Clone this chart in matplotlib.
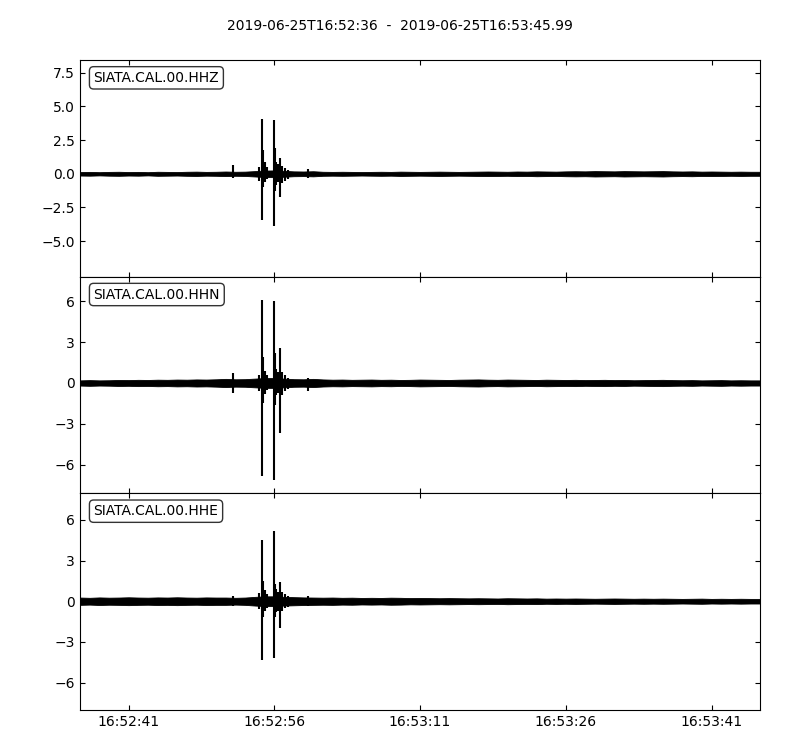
"""Three-component seismogram, SIATA.CAL.00 (HHZ / HHN / HHE), ObsPy-style layout."""

import matplotlib

matplotlib.use("Agg")
import matplotlib.dates as mdates
import matplotlib.pyplot as plt
import numpy as np

# start of the record; every time below is seconds after it
START = np.datetime64("2019-06-25T16:52:36")
DURATION = 69.99
TITLE = "2019-06-25T16:52:36  -  2019-06-25T16:53:45.99"
CHANNELS = ["SIATA.CAL.00.HHZ", "SIATA.CAL.00.HHN", "SIATA.CAL.00.HHE"]

# background noise: half-width of the min/max band, one value per second (0..70 s)
env_t = np.arange(0, 71, 1.0)
hhz_w = [0.13, 0.14, 0.12, 0.14, 0.15, 0.13, 0.14, 0.12, 0.15, 0.14,
         0.13, 0.15, 0.16, 0.14, 0.15, 0.17, 0.15, 0.16, 0.20, 0.24,
         0.25, 0.22, 0.18, 0.17, 0.19, 0.15, 0.14, 0.15, 0.14, 0.13,
         0.14, 0.15, 0.14, 0.16, 0.15, 0.14, 0.15, 0.16, 0.15, 0.14,
         0.15, 0.16, 0.17, 0.16, 0.15, 0.17, 0.16, 0.18, 0.17, 0.16,
         0.18, 0.19, 0.18, 0.20, 0.19, 0.18, 0.20, 0.19, 0.18, 0.19,
         0.20, 0.18, 0.17, 0.18, 0.16, 0.17, 0.16, 0.15, 0.16, 0.15, 0.15]
hhn_w = [0.19, 0.21, 0.19, 0.20, 0.22, 0.21, 0.23, 0.22, 0.24, 0.23,
         0.25, 0.24, 0.26, 0.25, 0.27, 0.30, 0.27, 0.28, 0.32, 0.36,
         0.36, 0.32, 0.28, 0.27, 0.30, 0.26, 0.24, 0.25, 0.23, 0.24,
         0.25, 0.23, 0.24, 0.22, 0.23, 0.25, 0.24, 0.23, 0.22, 0.24,
         0.25, 0.26, 0.24, 0.23, 0.25, 0.24, 0.23, 0.22, 0.24, 0.23,
         0.22, 0.23, 0.21, 0.22, 0.23, 0.21, 0.22, 0.20, 0.21, 0.22,
         0.23, 0.21, 0.20, 0.21, 0.19, 0.20, 0.21, 0.19, 0.20, 0.19, 0.19]
hhe_w = [0.27, 0.25, 0.28, 0.26, 0.27, 0.29, 0.27, 0.26, 0.28, 0.27,
         0.29, 0.27, 0.26, 0.28, 0.27, 0.27, 0.25, 0.27, 0.32, 0.36,
         0.36, 0.32, 0.30, 0.28, 0.27, 0.26, 0.27, 0.25, 0.26, 0.24,
         0.25, 0.24, 0.26, 0.25, 0.23, 0.24, 0.23, 0.22, 0.23, 0.22,
         0.21, 0.22, 0.21, 0.20, 0.22, 0.21, 0.20, 0.21, 0.19, 0.20,
         0.19, 0.20, 0.19, 0.18, 0.19, 0.20, 0.19, 0.18, 0.19, 0.18,
         0.19, 0.18, 0.17, 0.18, 0.19, 0.17, 0.18, 0.17, 0.18, 0.17, 0.17]

# transient peaks (max / min inside short windows)
ev_t = [15.75, 18.45, 18.74, 18.85, 19.0, 19.2, 19.94, 20.05, 20.2, 20.35,
        20.59, 20.8, 21.05, 21.4, 23.5]
hhz_hi = [0.65, 0.5, 4.1, 1.8, 0.9, 0.5, 4.0, 1.9, 0.9, 0.7, 1.2, 0.6, 0.45, 0.3, 0.35]
hhz_lo = [-0.3, -0.5, -3.4, -1.0, -0.6, -0.4, -3.85, -1.3, -0.8, -0.6, -1.7, -0.7, -0.5, -0.35, -0.3]
hhn_hi = [0.75, 0.6, 6.1, 1.9, 0.9, 0.6, 6.0, 2.2, 1.0, 0.8, 2.55, 0.8, 0.55, 0.4, 0.35]
hhn_lo = [-0.7, -0.6, -6.8, -1.5, -0.8, -0.5, -7.1, -1.6, -0.9, -0.7, -3.65, -0.9, -0.6, -0.45, -0.6]
hhe_hi = [0.35, 0.6, 4.5, 1.5, 0.8, 0.55, 5.2, 1.3, 0.9, 0.7, 1.45, 0.7, 0.5, 0.4, 0.35]
hhe_lo = [-0.35, -0.6, -4.3, -1.2, -0.7, -0.5, -4.2, -1.2, -0.8, -0.7, -2.0, -0.7, -0.5, -0.4, -0.35]

# y ranges and ticks of the three panels
ylims = [(-7.64, 8.45), (-8.1, 7.8), (-8.02, 7.95)]
yticks = [[-5.0, -2.5, 0.0, 2.5, 5.0, 7.5], [-6, -3, 0, 3, 6], [-6, -3, 0, 3, 6]]


def _to_time(seconds):
    """seconds after START -> datetime64 (microsecond resolution)."""
    us = (np.asarray(seconds, dtype=float) * 1e6).astype("timedelta64[us]")
    return START + us


def _draw_trace(ax, width, hi, lo):
    """min/max band for the noise, vertical strokes for the transients."""
    w = np.asarray(width)
    ax.fill_between(_to_time(env_t), -w, w, color="k", lw=0.6, edgecolor="k")
    ax.vlines(_to_time(ev_t), lo, hi, color="k", lw=1.5)


def main():
    fig, axes = plt.subplots(3, 1, sharex=True, figsize=(8, 7.5), dpi=100)
    fig.subplots_adjust(left=0.1, right=0.95, top=0.92, bottom=0.0533, hspace=0)

    traces = [(hhz_w, hhz_hi, hhz_lo), (hhn_w, hhn_hi, hhn_lo), (hhe_w, hhe_hi, hhe_lo)]
    for ax, name, (w, hi, lo), yl, yt in zip(axes, CHANNELS, traces, ylims, yticks):
        _draw_trace(ax, w, hi, lo)
        ax.set_ylim(*yl)
        ax.set_yticks(yt)
        ax.tick_params(direction="in", top=True, right=True, labelsize=10)
        ax.text(0.02, 0.95, name, transform=ax.transAxes, va="top", ha="left",
                fontsize=10, bbox=dict(boxstyle="round", fc="w", alpha=0.8))

    axes[-1].set_xlim(_to_time(0), _to_time(DURATION))
    axes[-1].xaxis.set_major_locator(mdates.SecondLocator(bysecond=[11, 26, 41, 56]))
    axes[-1].xaxis.set_major_formatter(mdates.DateFormatter("%H:%M:%S"))
    for ax in axes[:-1]:
        ax.tick_params(labelbottom=False)

    fig.suptitle(TITLE, y=0.975, fontsize=10)
    fig.savefig("out.png")
    plt.close(fig)


if __name__ == "__main__":
    main()
